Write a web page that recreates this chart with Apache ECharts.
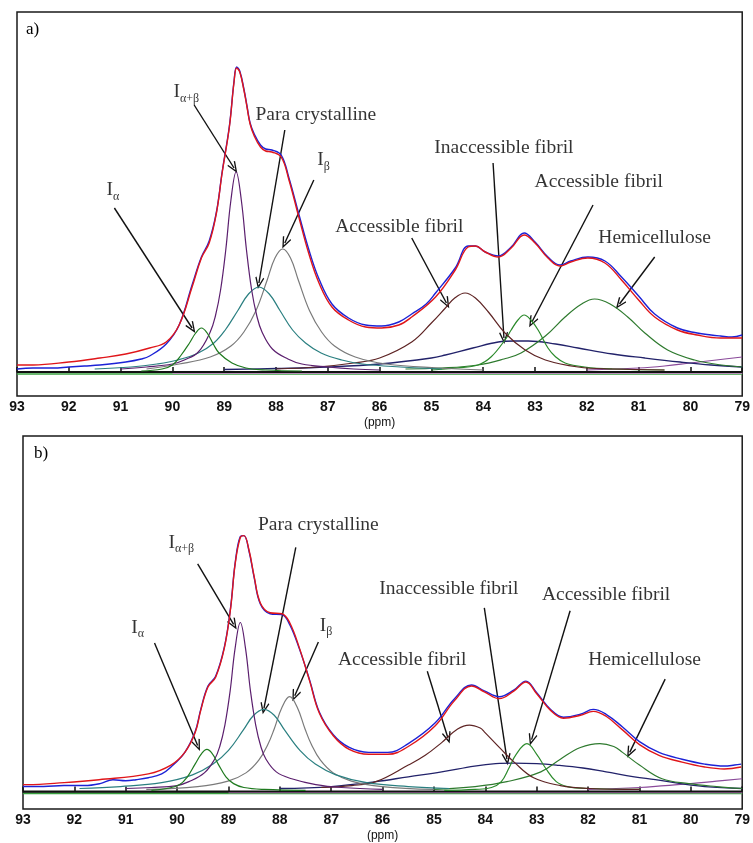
<!DOCTYPE html>
<html><head><meta charset="utf-8">
<script src="https://cdn.jsdelivr.net/npm/echarts/dist/echarts.min.js"></script>
<style>html,body{margin:0;padding:0;background:#fff}#c{width:753px;height:843px}</style>
</head><body><div id="c"></div>
<script>
// x axis (ppm)
const ppmTicks = [93,92,91,90,89,88,87,86,85,84,83,82,81,80,79];

// ---------- panel a ----------
const aFit = [[93.0,7],[92.69,7],[92.0,10],[91.4,14],[90.9,18],[90.44,24],[90.12,30],[89.87,47],[89.62,85],[89.44,114],[89.29,129],[89.15,159],[89.04,199],[88.9,245],[88.81,290],[88.76,304],[88.7,300],[88.62,282],[88.56,265],[88.5,248],[88.42,236],[88.3,225],[88.2,221],[88.08,220],[87.9,215],[87.75,192],[87.56,155],[87.37,119],[87.17,89],[86.92,65],[86.6,52],[86.27,45],[85.96,44],[85.63,47],[85.38,55],[84.92,75],[84.54,102],[84.29,125],[84.15,126],[83.96,120],[83.71,115],[83.46,124],[83.21,137],[83.0,129],[82.75,114],[82.52,106],[82.31,110],[81.98,114],[81.65,109],[81.33,92],[81.0,72],[80.69,55],[80.25,42],[79.87,37],[79.42,34],[79.0,34]];
const aExp = [[93.0,3],[92.69,4],[92.3,4],[92.0,5],[91.7,6],[91.4,7],[90.9,10],[90.6,13],[90.44,16],[90.12,28],[89.87,47],[89.62,87],[89.44,115],[89.29,131],[89.15,160],[89.04,200],[88.9,246],[88.81,291],[88.76,305],[88.7,301],[88.62,283],[88.56,266],[88.5,249],[88.42,238],[88.3,227],[88.2,223],[88.08,222],[87.9,217],[87.75,194],[87.56,158],[87.37,123],[87.17,93],[86.92,68],[86.6,54],[86.27,47],[85.96,46],[85.63,50],[85.38,58],[85.1,68],[84.92,79],[84.54,104],[84.29,126],[84.15,126],[83.96,120],[83.71,116],[83.46,125],[83.21,139],[83.0,130],[82.75,115],[82.52,107],[82.31,111],[81.98,115],[81.65,111],[81.33,95],[81.0,76],[80.69,58],[80.25,44],[79.87,39],[79.6,37],[79.42,36],[79.2,35],[79.0,37]];
const aIa = [[90.6,1],[90.2,3],[90.0,7],[89.83,17],[89.67,29],[89.55,39],[89.44,44],[89.33,39],[89.2,27],[89.1,19],[88.85,9],[88.58,4],[88.2,2],[87.5,1]];
const aIab = [[91.0,3],[90.5,5],[90.0,8],[89.77,12],[89.5,20],[89.27,40],[89.17,56],[89.07,82],[88.97,122],[88.87,172],[88.77,200],[88.67,172],[88.57,122],[88.47,82],[88.37,56],[88.27,40],[88.07,23],[87.77,13],[87.5,8],[87.0,5],[86.5,3],[86.0,2]];
const aPara = [[91.5,3],[90.8,5],[90.3,8],[89.9,12],[89.5,19],[89.2,29],[88.98,42],[88.73,62],[88.53,78],[88.33,85],[88.13,78],[87.93,62],[87.68,42],[87.43,29],[87.13,19],[86.73,12],[86.33,8],[85.6,5],[84.8,3]];
const aIb = [[90.5,3],[89.87,8],[89.27,15],[88.87,26],[88.62,40],[88.39,61],[88.17,92],[88.02,114],[87.87,123],[87.72,114],[87.57,92],[87.35,61],[87.12,40],[86.87,26],[86.47,15],[85.87,8],[84.87,4],[84.0,2]];
const aAF1 = [[88.0,3],[87.2,5],[86.5,9],[86.0,14],[85.38,30],[85.0,49],[84.73,64],[84.55,74],[84.35,79],[84.15,74],[83.9,60],[83.58,39],[83.19,22],[82.8,12],[82.17,5],[81.5,3],[80.5,2]];
const aInacc = [[89.0,2.5],[88.0,3.5],[87.0,5],[86.0,8],[85.0,14],[84.73,17],[84.2,24],[83.71,30],[83.4,31],[83.13,31],[82.6,28],[82.17,24],[81.5,18],[80.88,14],[80.2,10],[79.6,7],[79.0,5]];
const aAF2 = [[85.0,2],[84.5,4],[84.1,7],[83.85,15],[83.58,32],[83.46,42],[83.33,52],[83.21,57],[83.08,52],[82.94,42],[82.75,24],[82.6,15],[82.42,9],[82.04,5],[81.5,3],[80.5,2]];
const aHemi = [[85.5,3],[84.8,4],[84.1,7],[83.6,13],[83.27,19],[82.8,36],[82.42,55],[82.1,68],[81.85,73],[81.55,68],[81.21,55],[80.88,39],[80.44,22],[79.92,12],[79.4,7],[79.0,5]];
const aExtra = [[82.0,2],[81.0,4],[80.5,6],[80.0,9],[79.5,12],[79.0,15]];
const aBaseBlack = [[93,0],[79,0]];
const aBaseGreen = [[93,-2],[79,-2]];
const aBasePink = [[90,-1],[79,-1]];
const aLabels = [
  {t:'I{s|α}', x:91.15, y:182},
  {t:'I{s|α+β}', x:89.73, y:280},
  {t:'Para crystalline', x:87.23, y:257},
  {t:'I{s|β}', x:87.08, y:212},
  {t:'Accessible fibril', x:85.62, y:145},
  {t:'Inaccessible fibril', x:83.6, y:224},
  {t:'Accessible fibril', x:81.77, y:190},
  {t:'Hemicellulose', x:80.69, y:134}
];
const aArrows = [[91.12,164,89.62,44],[89.58,267,88.81,204],[87.83,242,88.33,89],[87.27,192,87.83,129],[85.38,134,84.71,69],[83.81,209,83.6,34],[81.88,167,83.06,50],[80.69,115,81.37,68]];

// ---------- panel b ----------
const bFit = [[93.0,7],[92.92,7],[92.2,9],[91.52,12],[90.56,18],[90.12,27],[89.85,40],[89.65,60],[89.54,83],[89.4,107],[89.25,117],[89.08,147],[88.96,187],[88.87,233],[88.77,260],[88.7,262],[88.6,247],[88.5,220],[88.38,193],[88.19,183],[87.96,182],[87.81,173],[87.62,147],[87.42,113],[87.23,80],[86.96,57],[86.65,43],[86.27,38],[85.9,38],[85.5,46],[84.98,67],[84.6,93],[84.27,108],[84.02,102],[83.73,95],[83.44,103],[83.21,112],[83.0,100],[82.73,83],[82.48,75],[82.15,78],[81.9,82],[81.65,77],[81.33,63],[81.0,48],[80.62,37],[80.17,30],[79.73,25],[79.35,23],[79.02,25]];
const bExp = [[93.0,5],[92.6,5],[92.2,6],[91.8,6],[91.5,8],[91.25,12],[91.0,11],[90.8,12],[90.56,14],[90.3,18],[90.12,25],[89.85,40],[89.65,61],[89.54,84],[89.4,108],[89.25,118],[89.08,148],[88.96,188],[88.87,234],[88.77,261],[88.7,262],[88.6,246],[88.5,219],[88.38,192],[88.19,182],[87.96,181],[87.81,171],[87.62,146],[87.42,114],[87.23,81],[86.96,58],[86.65,45],[86.27,40],[85.9,40],[85.5,49],[84.98,70],[84.6,95],[84.27,109],[84.02,103],[83.73,97],[83.44,104],[83.21,113],[83.0,101],[82.73,84],[82.48,76],[82.15,79],[81.9,84],[81.65,79],[81.33,66],[81.0,51],[80.62,40],[80.17,33],[79.73,28],[79.35,26],[79.15,27],[79.02,28]];
const bIa = [[90.5,1],[90.2,3],[89.95,7],[89.8,15],[89.65,28],[89.52,39],[89.42,43],[89.32,39],[89.2,28],[89.05,15],[88.9,8],[88.7,4],[88.3,2],[87.5,1]];
const bIab = [[91.0,3],[90.5,4],[90.0,6],[89.77,10],[89.47,19],[89.27,33],[89.17,46],[89.07,68],[88.97,102],[88.87,147],[88.77,173],[88.67,147],[88.57,102],[88.47,68],[88.37,46],[88.27,33],[88.07,20],[87.77,13],[87.3,7],[86.8,4],[86.0,2]];
const bPara = [[91.9,3],[91.1,5],[90.3,9],[89.7,17],[89.3,28],[89.0,42],[88.71,63],[88.51,78],[88.31,84],[88.11,78],[87.91,63],[87.61,42],[87.31,28],[86.91,17],[86.31,9],[85.5,5],[84.7,3]];
const bIb = [[90.6,2],[89.6,5],[89.01,10.6],[88.66,19],[88.41,32],[88.23,48.5],[88.11,64],[87.96,86],[87.81,97],[87.66,86],[87.51,64],[87.39,48.5],[87.21,32],[86.96,19],[86.61,10.6],[86.01,5],[85.0,2]];
const bAF1 = [[87.2,4],[86.6,6],[86.13,10],[85.5,27],[85.17,37],[84.85,50],[84.54,64],[84.31,68],[84.1,65],[84.02,61],[83.69,43],[83.44,30],[83.06,14],[82.54,6],[81.96,3],[81.0,2]];
const bInacc = [[88.0,3],[87.0,5],[86.13,10],[85.5,15],[84.85,20],[84.21,26],[83.8,28.5],[83.44,29],[83.0,28.5],[82.62,27],[82.1,24],[81.65,20],[81.1,15],[80.69,12],[80.2,8],[79.73,5],[79.0,3]];
const bAF2 = [[84.8,1],[84.2,2],[83.88,4],[83.69,10],[83.54,24],[83.4,38],[83.19,49],[83.0,38],[82.83,24],[82.62,10],[82.4,5],[82.0,3],[81.0,2]];
const bHemi = [[85.0,2],[84.2,5],[83.58,10],[82.92,20],[82.54,33],[82.15,45],[81.77,49],[81.5,46],[81.33,40],[81.0,27],[80.56,13],[80.04,8],[79.5,5],[79.0,3]];
const bExtra = [[82.0,2],[81.0,4],[80.5,6],[80.0,8],[79.5,10.5],[79.0,13]];
const bBaseBlack = [[93,0],[79,0]];
const bBaseGreen = [[93,-2],[79,-2]];
const bBasePink = [[89,-1],[79,-1]];
const bLabels = [
  {t:'I{s|α}', x:90.77, y:168},
  {t:'I{s|α+β}', x:89.92, y:255},
  {t:'Para crystalline', x:87.25, y:273},
  {t:'I{s|β}', x:87.1, y:170},
  {t:'Accessible fibril', x:85.62, y:135},
  {t:'Inaccessible fibril', x:84.71, y:207},
  {t:'Accessible fibril', x:81.65, y:201},
  {t:'Hemicellulose', x:80.9, y:135}
];
const bArrows = [[90.44,152,89.6,47],[89.6,233,88.9,171],[87.69,250,88.31,85],[87.25,153,87.71,98],[85.13,123,84.73,55],[84.02,188,83.58,33],[82.35,185,83.1,53],[80.5,115,81.19,40]];

// ---------- build ----------
const COL = {
  exp:'#1c22d6', fit:'#e0161a', ia:'#1f7a1f', iab:'#5b1f6e', para:'#2a7f80', ib:'#7a7a7a',
  af1:'#5e2424', inacc:'#22226a', af2:'#2b8a2b', hemi:'#2e7a2e', extra:'#8a4a9a',
  bk:'#111111', bg:'#3aa040', bp:'#d080d0'
};
const chevron = 'path://M0,10 L5,0 L10,10 L8.8,10.8 L5,3.2 L1.2,10.8 Z';

function line(data, color, gi, width, z) {
  return {type:'line', data, xAxisIndex:gi, yAxisIndex:gi, smooth:0.4, symbol:'none',
    lineStyle:{color, width}, z, silent:true, animation:false};
}
function flat(data, color, gi, width, z) {
  return {type:'line', data, xAxisIndex:gi, yAxisIndex:gi, symbol:'none',
    lineStyle:{color, width}, z, silent:true, animation:false};
}
function annot(labels, arrows, gi) {
  return {
    type:'scatter', xAxisIndex:gi, yAxisIndex:gi, symbolSize:1, silent:true, animation:false, z:20,
    itemStyle:{color:'rgba(0,0,0,0)'},
    data: labels.map(l => ({value:[l.x, l.y], name:l.t})),
    label:{show:true, position:'inside', formatter:p => p.name, color:'#000',
      textBorderWidth:0, textShadowBlur:0,
      fontFamily:'Liberation Serif', fontSize:19.5, lineHeight:25,
      rich:{s:{fontFamily:'Liberation Serif', fontSize:12, lineHeight:17, verticalAlign:'bottom', color:'#000', textBorderWidth:0}}},
    labelLayout:{hideOverlap:false},
    markLine:{silent:true, animation:false, symbol:['none', chevron], symbolSize:[9,12],
      lineStyle:{color:'#111', width:1.4, type:'solid'}, label:{show:false},
      data: arrows.map(a => [{coord:[a[0], a[1]]}, {coord:[a[2], a[3]]}])}
  };
}
function panelSeries(gi, d) {
  return [
    flat(d.bg, COL.bg, gi, 1.5, 2),
    flat(d.bp, COL.bp, gi, 1.5, 2),
    flat(d.bk, COL.bk, gi, 2, 3),
    line(d.extra, COL.extra, gi, 1.2, 4),
    line(d.inacc, COL.inacc, gi, 1.3, 5),
    line(d.hemi, COL.hemi, gi, 1.2, 5),
    line(d.af2, COL.af2, gi, 1.2, 5),
    line(d.af1, COL.af1, gi, 1.2, 5),
    line(d.ib, COL.ib, gi, 1.2, 5),
    line(d.para, COL.para, gi, 1.2, 5),
    line(d.iab, COL.iab, gi, 1.2, 6),
    line(d.ia, COL.ia, gi, 1.2, 6),
    line(d.exp, COL.exp, gi, 1.4, 8),
    line(d.fit, COL.fit, gi, 1.4, 9),
    annot(d.labels, d.arrows, gi)
  ];
}
function xAx(gi) {
  return {type:'value', gridIndex:gi, min:ppmTicks[ppmTicks.length-1], max:ppmTicks[0], interval:1, inverse:true,
    axisLine:{show:true, lineStyle:{color:'#111', width:1.5}},
    axisTick:{show:true, inside:true, length:5, lineStyle:{color:'#111', width:1.5}},
    axisLabel:{color:'#111', fontFamily:'Liberation Sans', fontSize:14, fontWeight:'bold', margin:4, showMinLabel:true, showMaxLabel:true},
    splitLine:{show:false},
    name:'(ppm)', nameLocation:'middle', nameGap:21,
    nameTextStyle:{color:'#111', fontFamily:'Liberation Sans', fontSize:12}};
}
function yAx(gi, min, max) {
  return {type:'value', gridIndex:gi, min, max, show:false, splitLine:{show:false}};
}

const chart = echarts.init(document.getElementById('c'));
chart.setOption({
  backgroundColor:'#fff',
  animation:false,
  grid:[
    {left:17, top:12, width:728, height:384, show:true, borderColor:'#1a1a1a', borderWidth:1.5, backgroundColor:'#fff'},
    {left:23, top:436, width:728, height:382, show:true, borderColor:'#1a1a1a', borderWidth:1.5, backgroundColor:'#fff'}
  ],
  xAxis:[xAx(0), xAx(1)],
  yAxis:[yAx(0,-24,360), yAx(1,-18,364)],
  graphic:[
    {type:'text', left:26, top:21, style:{text:'a)', fontFamily:'Liberation Serif', fontSize:17, fill:'#000'}},
    {type:'text', left:34, top:445, style:{text:'b)', fontFamily:'Liberation Serif', fontSize:17, fill:'#000'}}
  ],
  series:[
    ...panelSeries(0, {exp:aExp, fit:aFit, ia:aIa, iab:aIab, para:aPara, ib:aIb, af1:aAF1, inacc:aInacc, af2:aAF2, hemi:aHemi, extra:aExtra, bk:aBaseBlack, bg:aBaseGreen, bp:aBasePink, labels:aLabels, arrows:aArrows}),
    ...panelSeries(1, {exp:bExp, fit:bFit, ia:bIa, iab:bIab, para:bPara, ib:bIb, af1:bAF1, inacc:bInacc, af2:bAF2, hemi:bHemi, extra:bExtra, bk:bBaseBlack, bg:bBaseGreen, bp:bBasePink, labels:bLabels, arrows:bArrows})
  ]
});
</script>
</body></html>
